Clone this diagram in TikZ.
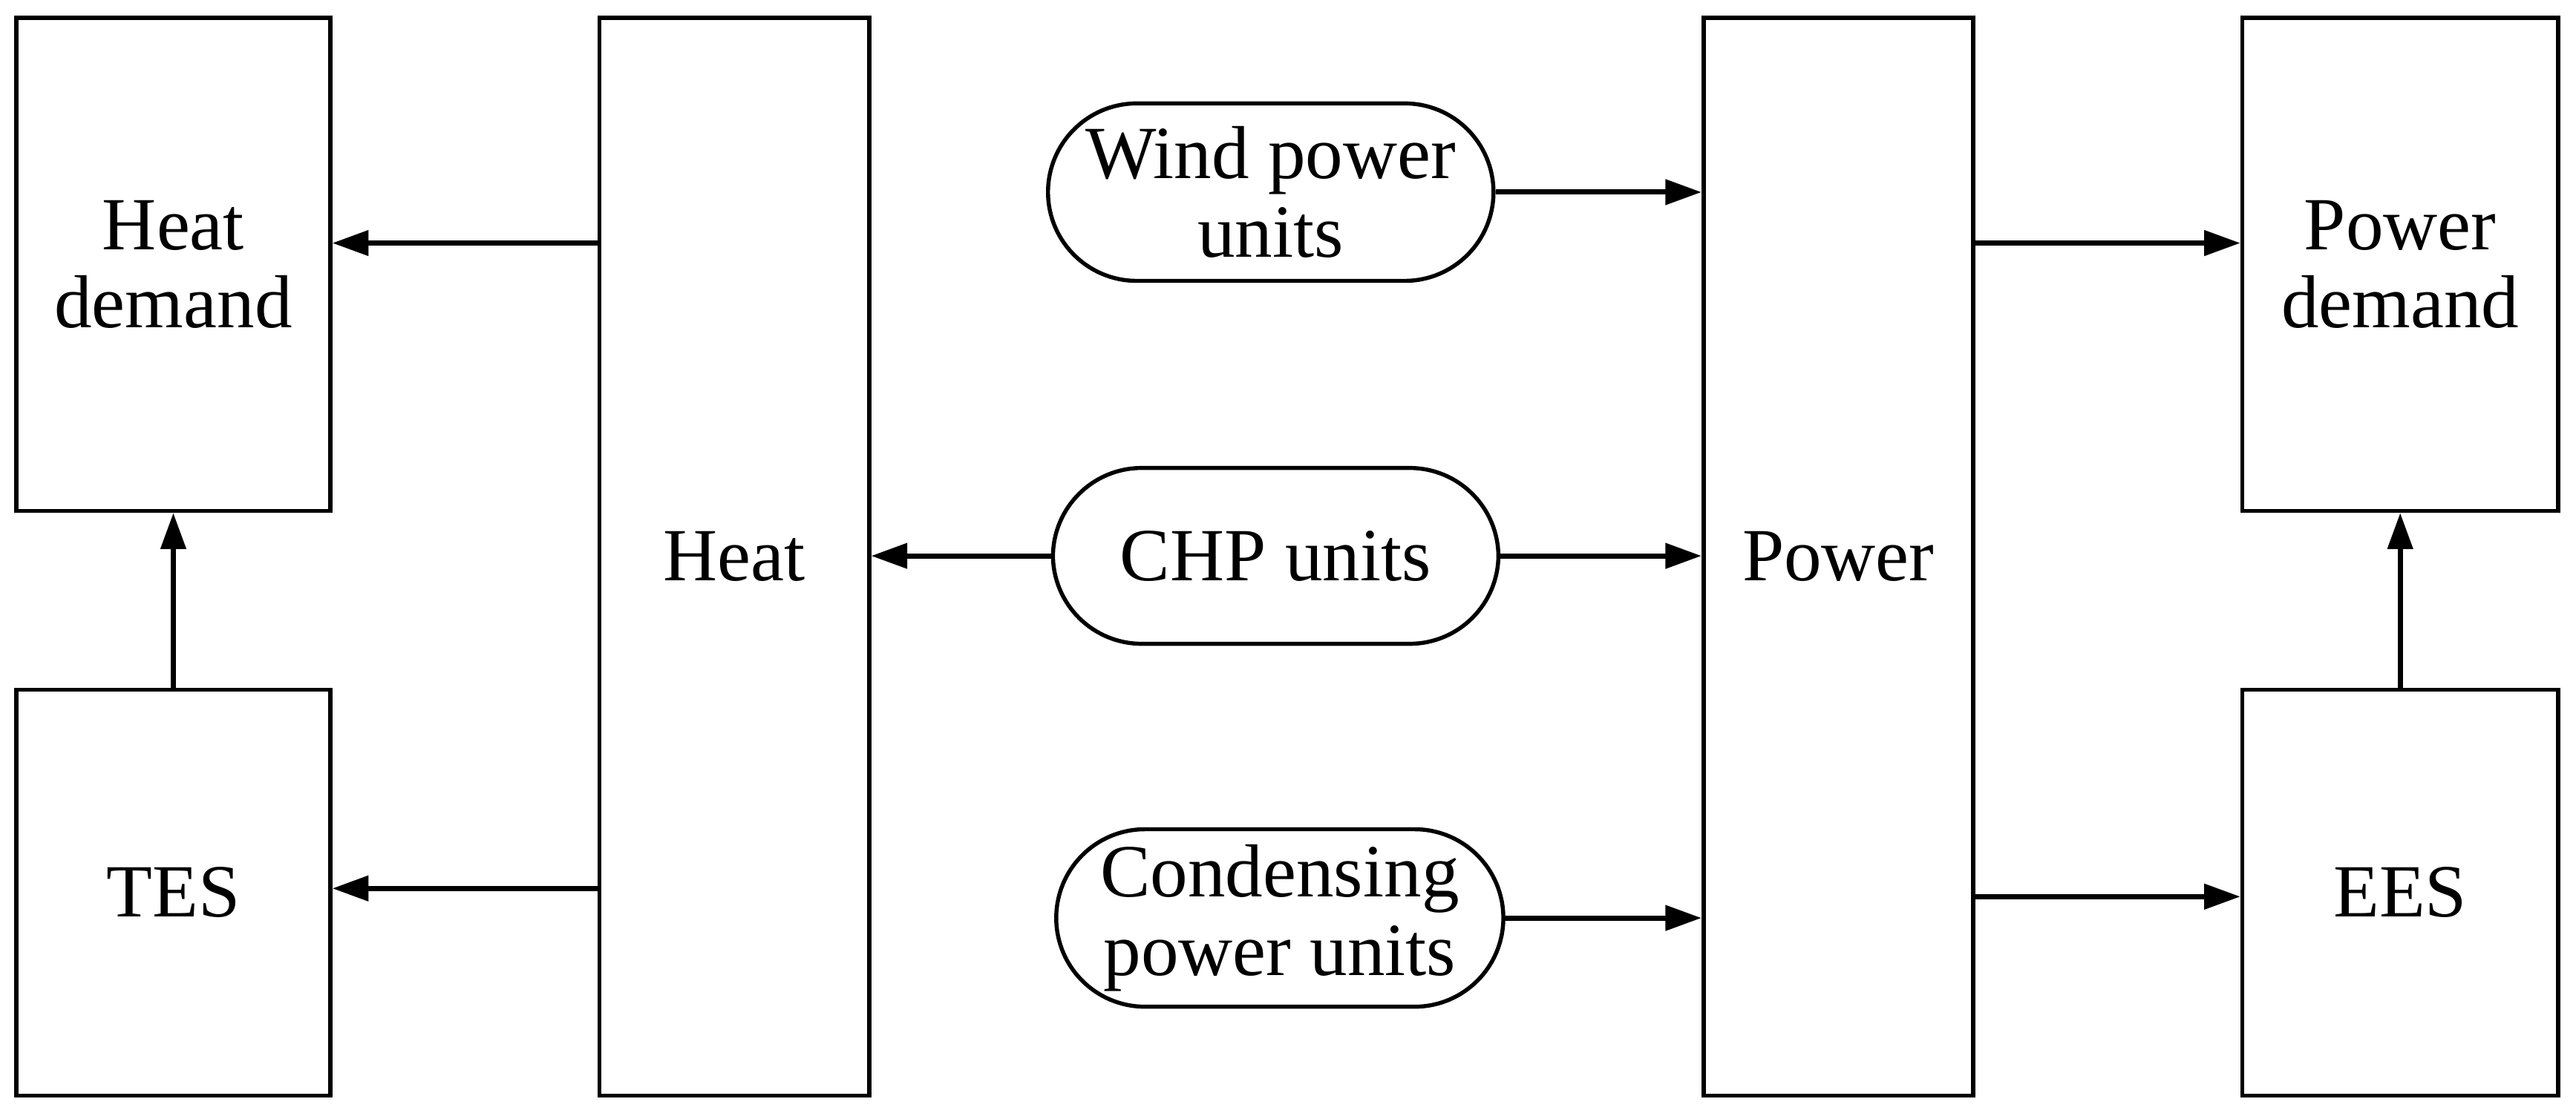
\documentclass[tikz,border=0pt]{standalone}
\usepackage{fontspec}
\setmainfont{Liberation Serif}
\usetikzlibrary{arrows.meta}
\begin{document}
\begin{tikzpicture}[x=0.01cm,y=-0.01cm,
  box/.style={draw,line width=0.7pt,inner sep=0pt,align=center,font=\fontsize{13pt}{13.6pt}\selectfont},
  pill/.style={box,rounded corners=0.54cm},
  arr/.style={line width=0.9pt,-{Triangle[length=0.22cm,width=0.15cm]}}]
\useasboundingbox (0,0) rectangle (1568,681);
\node[box,minimum width=1.91cm,minimum height=3cm] (hd) at (105.5,161) {Heat\\demand};
\node[box,minimum width=1.91cm,minimum height=2.47cm] (tes) at (105.5,543.5) {TES};
\node[box,minimum width=1.64cm,minimum height=6.56cm] (heat) at (447,339) {Heat};
\node[box,minimum width=1.64cm,minimum height=6.56cm] (power) at (1119,339) {Power};
\node[box,minimum width=1.92cm,minimum height=3cm] (pd) at (1461,161) {Power\\demand};
\node[box,minimum width=1.92cm,minimum height=2.47cm] (ees) at (1461,543.5) {EES};
\node[pill,minimum width=2.71cm,minimum height=1.08cm] (wind) at (773.5,117) {Wind power\\units};
\node[pill,minimum width=2.71cm,minimum height=1.07cm] (chp) at (776.5,338.5) {CHP units};
\node[pill,minimum width=2.72cm,minimum height=1.08cm] (cond) at (779,559) {Condensing\\power units};
\coordinate (h1) at (365,148);
\coordinate (h2) at (365,541);
\coordinate (p1) at (1201,148);
\coordinate (p2) at (1201,546);
\draw[arr] (h1) -- (hd.east|-h1);
\draw[arr] (h2) -- (tes.east|-h2);
\draw[arr] (chp.west) -- (heat.east|-chp.west);
\draw[arr] (chp.east) -- (power.west|-chp.east);
\draw[arr] (wind.east) -- (power.west|-wind.east);
\draw[arr] (cond.east) -- (power.west|-cond.east);
\draw[arr] (p1) -- (pd.west|-p1);
\draw[arr] (p2) -- (ees.west|-p2);
\draw[arr] (tes.north) -- (hd.south);
\draw[arr] (ees.north) -- (pd.south);
\end{tikzpicture}
\end{document}
